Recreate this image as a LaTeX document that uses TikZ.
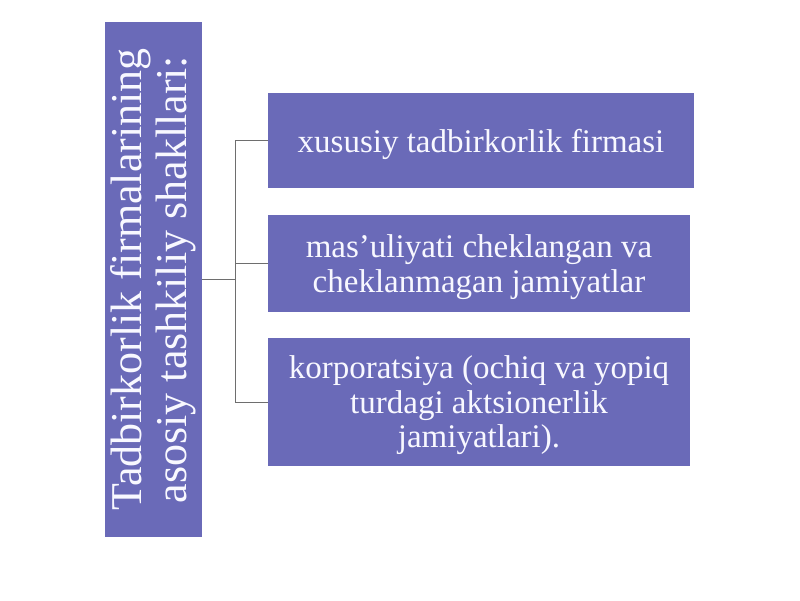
\documentclass[tikz,border=0pt]{standalone}
\usepackage{fontspec}
\setmainfont{Liberation Serif}
\definecolor{boxfill}{RGB}{106,106,184}
\definecolor{linegray}{RGB}{110,110,110}
\definecolor{boxtext}{RGB}{248,248,255}
\tikzset{
  itembox/.style={rectangle, fill=boxfill, text=boxtext, inner sep=0pt, align=center,
    text depth=0pt, font=\fontsize{33}{34.5}\selectfont},
  titlebox/.style={rectangle, fill=boxfill, text=boxtext, inner sep=0pt, align=center,
    rotate=90, minimum width=515pt, minimum height=97pt,
    font=\fontsize{44}{45}\selectfont},
  conn/.style={draw=linegray, line width=0.9pt}
}
\begin{document}
\begin{tikzpicture}[x=1pt,y=-1pt]
\useasboundingbox (0,0) rectangle (800,600);
\node[titlebox] (left) at (153.5,279.5) {Tadbirkorlik firmalarining\\asosiy tashkiliy shakllari:};
\node[itembox, minimum width=426pt, minimum height=95pt] (b1) at (481,140.5) {xususiy tadbirkorlik firmasi};
\node[itembox, minimum width=422pt, minimum height=97pt] (b2) at (479,263.5) {mas’uliyati cheklangan va\\cheklanmagan jamiyatlar};
\node[itembox, minimum width=422pt, minimum height=128pt] (b3) at (479,402) {korporatsiya (ochiq va yopiq\\turdagi aktsionerlik\\jamiyatlari).};
\coordinate (j) at (235,279.5);
\draw[conn] (left.south) -- (j);
\draw[conn] (j) |- (b1.west);
\draw[conn] (j) |- (b2.west);
\draw[conn] (j) |- (b3.west);
\end{tikzpicture}
\end{document}
